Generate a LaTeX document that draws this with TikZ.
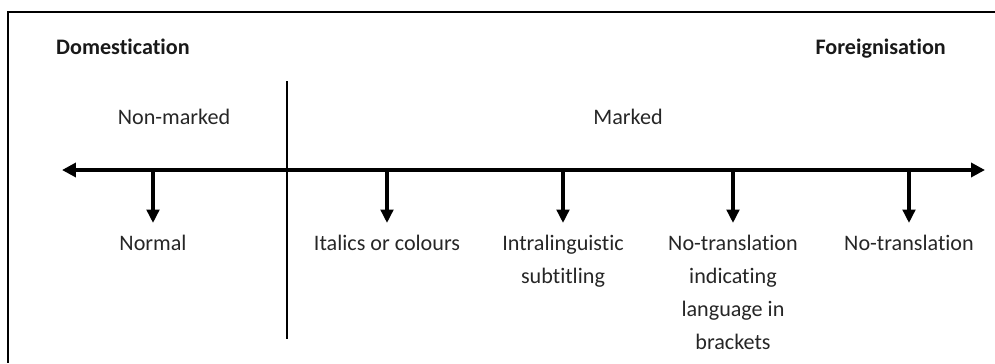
\documentclass[tikz,border=0pt]{standalone}
\usepackage{fontspec}
\setmainfont{Carlito}[Ligatures=CommonOff]
\usepackage{tikz}
\usetikzlibrary{arrows.meta,positioning}

\begin{document}
\begin{tikzpicture}[
  x=0.02cm, y=-0.02cm,
  every node/.style={font=\fontsize{12.6}{18.7}\selectfont, text=black!85},
  head/.style={font=\fontsize{12.6}{18.7}\selectfont\bfseries, text=black!90},
  lbl/.style={align=center, anchor=north, inner sep=0pt},
  axis/.style={{Triangle[length=0.28cm,width=0.28cm]}-{Triangle[length=0.28cm,width=0.28cm]}, line width=2pt},
  down/.style={-{Triangle[length=0.27cm,width=0.25cm]}, line width=2pt, shorten >=0.24cm},
  thin line/.style={line width=0.9pt}
]
\useasboundingbox (0,0) rectangle (995,363);

% frame
\draw[thin line] (995,12) -- (8,12) -- (8,363);

% ends of the scale
\node[head, anchor=base west] (dom) at (50,54) {Domestication};
\node[head, anchor=base east] (for) at (952,54) {Foreignisation};

% groups
\node[anchor=base] (nonmarked) at (174,124) {Non-marked};
\node[anchor=base] (marked) at (628,124) {Marked};
\coordinate (divtop) at (287,81);
\coordinate (divbot) at (287,339);
\draw[thin line] (divtop) -- (divbot);

% axis
\coordinate (axL) at (62,170);
\coordinate (axR) at (985,170);
\draw[axis] (axL) -- (axR);

% points on the axis
\coordinate (p1) at (153,170);
\coordinate (p2) at (387,170);
\coordinate (p3) at (563,170);
\coordinate (p4) at (733,170);
\coordinate (p5) at (909,170);

% strategies
\node[lbl] (normal) at (153,235) {Normal};
\node[lbl] (italics) at (387,235) {Italics or colours};
\node[lbl] (intra) at (563,235) {Intralinguistic\\subtitling};
\node[lbl] (notrind) at (733,235) {No-translation\\indicating\\language in\\brackets};
\node[lbl] (notr) at (909,235) {No-translation};

\draw[down] (p1) -- (normal);
\draw[down] (p2) -- (italics);
\draw[down] (p3) -- (intra);
\draw[down] (p4) -- (notrind);
\draw[down] (p5) -- (notr);

\end{tikzpicture}
\end{document}
